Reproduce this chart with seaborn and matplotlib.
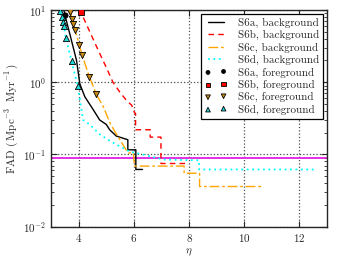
import numpy as np
import pandas as pd
import seaborn as sns
import matplotlib.pyplot as plt

# background curves (FAD vs eta)
eta_a = [3.45, 3.5, 3.7, 3.92, 4.04, 4.22, 4.52, 4.76, 5.0, 5.12, 5.36, 5.78, 5.78, 6.07, 6.07, 6.31]
fad_a = [10.5, 8.5, 4.3, 2.0, 0.95, 0.63, 0.42, 0.30, 0.26, 0.22, 0.18, 0.16, 0.116, 0.116, 0.062, 0.062]

eta_b = [4.05, 4.08, 4.4, 4.76, 5.0, 5.24, 5.5, 5.75, 5.92, 6.02, 6.06, 6.06, 6.59, 6.59, 6.98, 6.98, 7.96]
fad_b = [10.5, 9.3, 5.0, 2.5, 1.6, 1.0, 0.72, 0.55, 0.48, 0.38, 0.37, 0.22, 0.22, 0.174, 0.174, 0.075, 0.075]

eta_c = [3.66, 3.68, 3.76, 3.8, 3.86, 4.02, 4.12, 4.38, 4.64, 4.9, 5.12, 5.3, 5.54, 5.72, 5.8, 5.98, 6.02,
         7.82, 7.82, 8.38, 8.38, 10.7]
fad_c = [10.5, 9.5, 7.4, 6.3, 5.3, 3.3, 2.4, 1.2, 0.68, 0.45, 0.28, 0.21, 0.15, 0.115, 0.105, 0.105, 0.069,
         0.069, 0.055, 0.055, 0.036, 0.036]

eta_d = [3.3, 3.32, 3.38, 3.42, 3.47, 3.53, 3.74, 3.96, 4.16, 4.4, 4.76, 5.12, 5.48, 5.84, 6.32, 6.8, 7.1,
         8.36, 8.36, 12.55]
fad_d = [10.5, 9.7, 8.1, 6.8, 6.0, 4.1, 1.97, 0.9, 0.30, 0.26, 0.19, 0.155, 0.13, 0.11, 0.10, 0.09, 0.085,
         0.083, 0.062, 0.062]

# foreground points
fg_eta_a = [3.5]
fg_fad_a = [8.5]
fg_eta_b = [4.08]
fg_fad_b = [9.3]
fg_eta_c = [3.68, 3.76, 3.8, 3.86, 4.02, 4.12, 4.38, 4.64]
fg_fad_c = [9.5, 7.4, 6.3, 5.3, 3.3, 2.4, 1.2, 0.68]
fg_eta_d = [3.32, 3.38, 3.42, 3.47, 3.53, 3.74, 3.96]
fg_fad_d = [9.7, 8.1, 6.8, 6.0, 4.1, 1.97, 0.9]

threshold = 0.09

sns.set_style("ticks")
plt.rcParams['font.family'] = 'serif'
plt.rcParams['font.serif'] = ['cmr10', 'DejaVu Serif']
plt.rcParams['mathtext.fontset'] = 'cm'
plt.rcParams['axes.formatter.use_mathtext'] = True
plt.rcParams['axes.unicode_minus'] = False

fig = plt.figure(figsize=(3.41, 2.63), dpi=100)
ax = fig.add_axes([0.150, 0.138, 0.809, 0.824])

sns.lineplot(x=eta_a, y=fad_a, sort=False, estimator=None, color='black', lw=1.0,
             label='S6a, background', ax=ax)
sns.lineplot(x=eta_b, y=fad_b, sort=False, estimator=None, color='red', lw=1.0,
             label='S6b, background', ax=ax)
sns.lineplot(x=eta_c, y=fad_c, sort=False, estimator=None, color='orange', lw=1.0,
             label='S6c, background', ax=ax)
sns.lineplot(x=eta_d, y=fad_d, sort=False, estimator=None, color='cyan', lw=1.3,
             label='S6d, background', ax=ax)
ax.lines[1].set_dashes([4, 3])
ax.lines[2].set_dashes([7, 2, 2, 2])
ax.lines[3].set_dashes([1, 2])

sns.scatterplot(x=fg_eta_a, y=fg_fad_a, color='black', marker='o', s=14, edgecolor='black',
                linewidth=0.6, label='S6a, foreground', ax=ax, zorder=5)
sns.scatterplot(x=fg_eta_b, y=fg_fad_b, color='red', marker='s', s=16, edgecolor='black',
                linewidth=0.6, label='S6b, foreground', ax=ax, zorder=5)
sns.scatterplot(x=fg_eta_c, y=fg_fad_c, color='#c88a10', marker='v', s=20, edgecolor='black',
                linewidth=0.6, label='S6c, foreground', ax=ax, zorder=5)
sns.scatterplot(x=fg_eta_d, y=fg_fad_d, color='#20d8d8', marker='^', s=20, edgecolor='black',
                linewidth=0.6, label='S6d, foreground', ax=ax, zorder=5)

ax.axhline(threshold, color='#e020e0', lw=1.3, zorder=1)

ax.set_yscale('log')
ax.set_xlim(3, 13)
ax.set_ylim(1e-2, 1e1)
ax.set_xticks([4, 6, 8, 10, 12])
ax.grid(True, which='major', ls=':', color='black', lw=0.9, alpha=0.7)
ax.tick_params(which='both', direction='in', top=True, right=True, labelsize=8)
ax.tick_params(which='major', length=4)
ax.tick_params(which='minor', length=2)
for sp in ax.spines.values():
    sp.set_linewidth(1.0)

ax.set_xlabel(r'$\eta$', fontsize=8, labelpad=2)
ax.set_ylabel(r'FAD $(\,\mathrm{Mpc}^{-3}\ \ \mathrm{Myr}^{-1}\,)$', fontsize=8, labelpad=2)

leg = ax.legend(loc='upper right', fontsize=8, numpoints=2, scatterpoints=2, frameon=True,
                fancybox=False, edgecolor='black', framealpha=1, handlelength=2.0,
                borderaxespad=0.35, labelspacing=0.2, handletextpad=1.0, borderpad=0.35,
                markerscale=0.75)
leg.get_frame().set_linewidth(0.9)

fig.savefig('out.png', dpi=100)
